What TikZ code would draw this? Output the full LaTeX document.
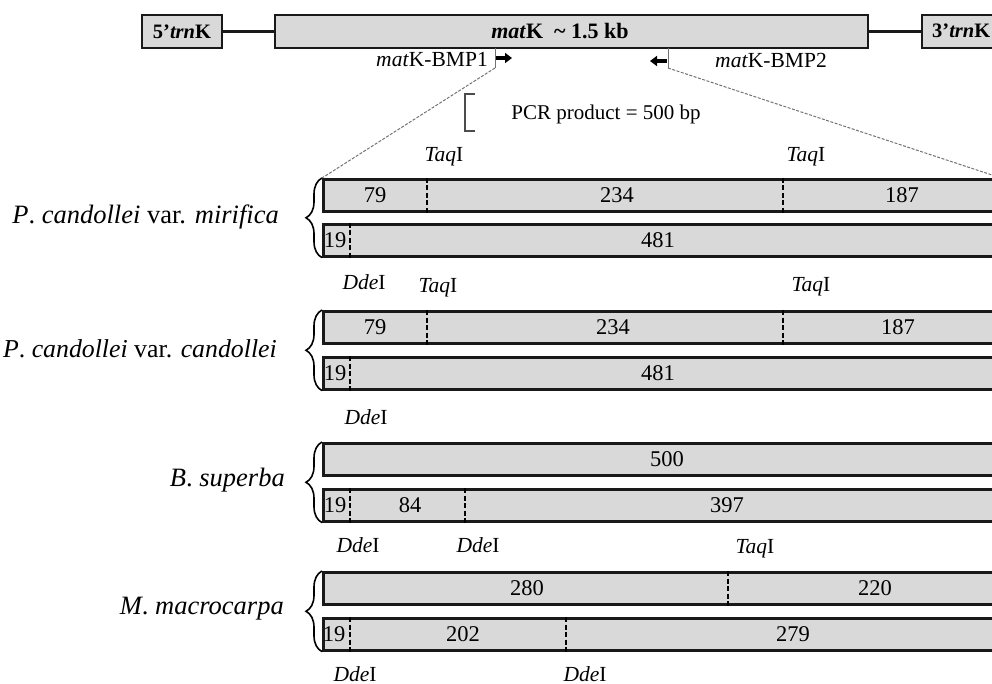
\documentclass[tikz,border=0pt]{standalone}
\usepackage{fontspec}
\setmainfont{Liberation Serif}
\usetikzlibrary{decorations.pathreplacing,arrows.meta}
\begin{document}
\begin{tikzpicture}[x=1pt,y=-1pt,
  band/.style={draw=black!90, line width=2.6pt, fill=black!15, minimum width=680pt, minimum height=32pt, anchor=north west, inner sep=0pt},
  topbox/.style={draw=black!90, line width=2.4pt, fill=black!15, minimum height=33pt, inner sep=0pt, font=\fontsize{20.5}{24}\selectfont\bfseries},
  cut/.style={line width=2.8pt, black, dash pattern=on 5pt off 2.5pt},
  num/.style={font=\fontsize{22.5}{26}\selectfont, text=black, inner sep=0pt},
  enz/.style={font=\fontsize{21.5}{25}\selectfont, inner sep=0pt},
  spec/.style={font=\fontsize{26.5}{30}\selectfont, inner sep=0pt, anchor=east},
  prim/.style={font=\fontsize{21.5}{26}\selectfont, inner sep=0pt},
  brc/.style={decorate, decoration={brace, amplitude=16pt}, line width=1.6pt},
  guide/.style={black!55, line width=1pt, dash pattern=on 3pt off 1.5pt},
  parrow/.style={-{Triangle[length=7pt,width=10pt]}, line width=3.5pt}
]
\useasboundingbox (0,0) rectangle (992,684);

% top gene map
\node[topbox, minimum width=80pt] (t5) at (182,31.5) {5’\textit{trn}K};
\node[topbox, minimum width=593pt] (mk) at (571.5,31.5) {};
\node[font=\fontsize{22}{26}\selectfont\bfseries, inner sep=0pt] (mkl) at (560,31) {\textit{mat}K \ \textasciitilde\ 1.5 kb};
\node[topbox, minimum width=90pt] (t3) at (967,31.5) {};
\node[font=\fontsize{20.5}{24}\selectfont\bfseries, inner sep=0pt, anchor=west] (t3l) at (932,31) {3’\textit{trn}K};
\draw[line width=2.5pt, black!90] (t5.east) -- (mk.west);
\draw[line width=2.5pt, black!90] (mk.east) -- (t3.west);

% primers
\node[prim] (p1) at (432,60) {\textit{mat}K-BMP1};
\coordinate (a1s) at (495,58);
\coordinate (a1e) at (512,58);
\draw[parrow] (a1s) -- (a1e);
\node[prim] (p2) at (771,60) {\textit{mat}K-BMP2};
\coordinate (a2s) at (667,61);
\coordinate (a2e) at (650,61);
\draw[parrow] (a2s) -- (a2e);

% PCR product bracket
\coordinate (k1) at (475,94);
\coordinate (k2) at (465,94);
\coordinate (k3) at (465,131);
\coordinate (k4) at (475,131);
\draw[line width=1.5pt, black!70] (k1) -- (k2) -- (k3) -- (k4);
\node[font=\fontsize{21}{24}\selectfont, inner sep=0pt] (pcr) at (606,114) {PCR product = 500 bp};

% bands
\node[band] (b1) at (322,178) {};
\node[band] (b2) at (322,223) {};
\node[band] (b3) at (322,310) {};
\node[band] (b4) at (322,356) {};
\node[band] (b5) at (322,442) {};
\node[band] (b6) at (322,488) {};
\node[band] (b7) at (322,571) {};
\node[band] (b8) at (322,617) {};

% guide lines from primers to the product
\coordinate (g1a) at (495,48);
\coordinate (g1b) at (495,68);
\coordinate (g2a) at (668,48);
\coordinate (g2b) at (668,68);
\coordinate (g2c) at (992,175);
\draw[black!55, line width=1pt] (g1a) -- (g1b);
\draw[guide] (g1b) -- (b1.north west);
\draw[black!55, line width=1pt] (g2a) -- (g2b);
\draw[guide] (g2b) -- (g2c);

% braces
\draw[brc] (b2.south west) -- (b1.north west);
\draw[brc] (b4.south west) -- (b3.north west);
\draw[brc] (b6.south west) -- (b5.north west);
\draw[brc] (b8.south west) -- (b7.north west);

% species labels
\node[spec] (s1) at (279,217) {\textit{P}. \textit{candollei} var. \textit{mirifica}};
\node[spec, font=\fontsize{25.8}{30}\selectfont] (s2) at (277,349) {\textit{P}. \textit{candollei} var. \textit{candollei}};
\node[spec] (s3) at (285,480) {\textit{B}. \textit{superba}};
\node[spec] (s4) at (284,609) {\textit{M}. \textit{macrocarpa}};

% cut sites
\draw[cut] (427,0 |- b1.north) -- (427,0 |- b1.south);
\draw[cut] (783,0 |- b1.north) -- (783,0 |- b1.south);
\draw[cut] (350,0 |- b2.north) -- (350,0 |- b2.south);
\draw[cut] (427,0 |- b3.north) -- (427,0 |- b3.south);
\draw[cut] (783,0 |- b3.north) -- (783,0 |- b3.south);
\draw[cut] (350,0 |- b4.north) -- (350,0 |- b4.south);
\draw[cut] (350,0 |- b6.north) -- (350,0 |- b6.south);
\draw[cut] (465,0 |- b6.north) -- (465,0 |- b6.south);
\draw[cut] (728,0 |- b7.north) -- (728,0 |- b7.south);
\draw[cut] (350,0 |- b8.north) -- (350,0 |- b8.south);
\draw[cut] (566,0 |- b8.north) -- (566,0 |- b8.south);

% fragment sizes
\node[num] (n1a) at (375,0 |- b1) {79};
\node[num] (n1b) at (617,0 |- b1) {234};
\node[num] (n1c) at (902,0 |- b1) {187};
\node[num] (n2a) at (335,0 |- b2) {19};
\node[num] (n2b) at (658,0 |- b2) {481};
\node[num] (n3a) at (375,0 |- b3) {79};
\node[num] (n3b) at (613,0 |- b3) {234};
\node[num] (n3c) at (898,0 |- b3) {187};
\node[num] (n4a) at (335,0 |- b4) {19};
\node[num] (n4b) at (658,0 |- b4) {481};
\node[num] (n5a) at (667,0 |- b5) {500};
\node[num] (n6a) at (335,0 |- b6) {19};
\node[num] (n6b) at (410,0 |- b6) {84};
\node[num] (n6c) at (727,0 |- b6) {397};
\node[num] (n7a) at (527,0 |- b7) {280};
\node[num] (n7b) at (875,0 |- b7) {220};
\node[num] (n8a) at (334,0 |- b8) {19};
\node[num] (n8b) at (463,0 |- b8) {202};
\node[num] (n8c) at (793,0 |- b8) {279};

% enzyme labels
\node[enz] (e1) at (444,157) {\textit{Taq}I};
\node[enz] (e2) at (806,157) {\textit{Taq}I};
\node[enz] (e3) at (364,282) {\textit{Dde}I};
\node[enz] (e4) at (438,288) {\textit{Taq}I};
\node[enz] (e5) at (811,287) {\textit{Taq}I};
\node[enz] (e6) at (366,417) {\textit{Dde}I};
\node[enz] (e7) at (358,545) {\textit{Dde}I};
\node[enz] (e8) at (478,545) {\textit{Dde}I};
\node[enz] (e9) at (755,549) {\textit{Taq}I};
\node[enz] (e10) at (355,674) {\textit{Dde}I};
\node[enz] (e11) at (585,674) {\textit{Dde}I};
\end{tikzpicture}
\end{document}
